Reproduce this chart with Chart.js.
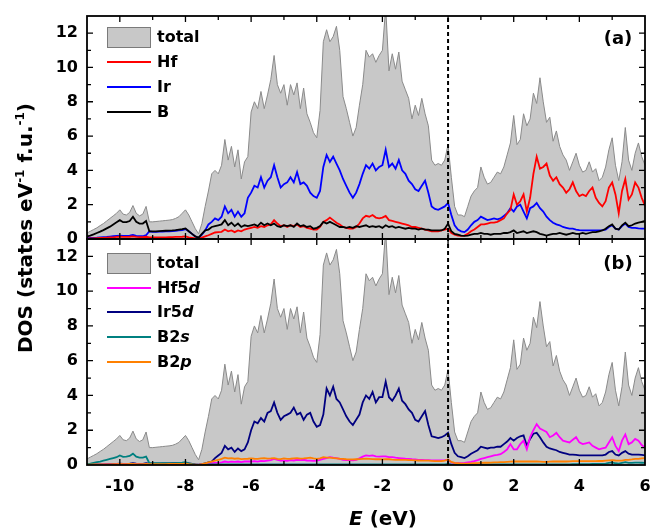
<!DOCTYPE html>
<html>
<head>
<meta charset="utf-8">
<script src="https://cdn.jsdelivr.net/npm/chart.js@4.4.1/dist/chart.umd.min.js"></script>
<style>
  body { margin: 0; background: #fff; }
  #wrap { position: relative; width: 653px; height: 529px; font-family: 'DejaVu Sans', sans-serif; font-weight: bold; color: #000; }
  .panel { position: absolute; left: 0; width: 653px; }
  #panelA { top: 0; height: 250px; }
  #panelB { top: 230px; height: 299px; }
  .txt { position: absolute; white-space: nowrap; font-size: 16px; line-height: 20px; z-index: 2; }
  .sw { position: absolute; left: 107px; width: 44px; height: 2px; z-index: 2; }
  .box { position: absolute; left: 107px; width: 44px; height: 21px; background: #c8c8c8; border: 1px solid #7a7a7a; box-sizing: border-box; z-index: 2; }
  sup { font-size: 12px; line-height: 0; vertical-align: 8px; }
</style>
</head>
<body>
<div id="wrap">
  <div class="panel" id="panelA"><canvas id="chartA"></canvas></div>
  <div class="panel" id="panelB"><canvas id="chartB"></canvas></div>

  <!-- legend (a) -->
  <div class="box" style="top:27px"></div><div class="txt" style="left:157px;top:27px">total</div>
  <div class="sw" style="top:61px;background:#ff0000"></div><div class="txt" style="left:157px;top:52px">Hf</div>
  <div class="sw" style="top:86px;background:#0000ff"></div><div class="txt" style="left:157px;top:77px">Ir</div>
  <div class="sw" style="top:111px;background:#000000"></div><div class="txt" style="left:157px;top:102px">B</div>
  <div class="txt" style="left:598px;top:27px;width:40px;text-align:center;font-size:18px;line-height:22px">(a)</div>

  <!-- legend (b) -->
  <div class="box" style="top:253px"></div><div class="txt" style="left:157px;top:253px">total</div>
  <div class="sw" style="top:287px;background:#ff00ff"></div><div class="txt" style="left:157px;top:278px">Hf5<i>d</i></div>
  <div class="sw" style="top:311px;background:#000080"></div><div class="txt" style="left:157px;top:302px">Ir5<i>d</i></div>
  <div class="sw" style="top:336px;background:#008080"></div><div class="txt" style="left:157px;top:327px">B2<i>s</i></div>
  <div class="sw" style="top:361px;background:#ff8000"></div><div class="txt" style="left:157px;top:352px">B2<i>p</i></div>
  <div class="txt" style="left:598px;top:252px;width:40px;text-align:center;font-size:18px;line-height:22px">(b)</div>

  <!-- axis titles -->
  <div class="txt" style="left:283px;top:506px;width:200px;text-align:center;font-size:20px;line-height:24px"><i>E</i> (eV)</div>
  <div class="txt" style="left:-125px;top:216px;width:300px;text-align:center;font-size:20px;line-height:24px;transform:rotate(-90deg)">DOS (states eV<sup>-1</sup> f.u.<sup>-1</sup>)</div>
</div>

<script>
// energy grid (eV)
const energy = [
  -11.0,-10.9,-10.8,-10.7,-10.6,-10.5,-10.4,-10.3,-10.2,-10.1,
  -10.0,-9.9,-9.8,-9.7,-9.6,-9.5,-9.4,-9.3,-9.2,-9.1,
  -9.0,-8.9,-8.8,-8.7,-8.6,-8.5,-8.4,-8.3,-8.2,-8.1,
  -8.0,-7.9,-7.8,-7.7,-7.6,-7.5,-7.4,-7.3,-7.2,-7.1,
  -7.0,-6.9,-6.8,-6.7,-6.6,-6.5,-6.4,-6.3,-6.2,-6.1,
  -6.0,-5.9,-5.8,-5.7,-5.6,-5.5,-5.4,-5.3,-5.2,-5.1,
  -5.0,-4.9,-4.8,-4.7,-4.6,-4.5,-4.4,-4.3,-4.2,-4.1,
  -4.0,-3.9,-3.8,-3.7,-3.6,-3.5,-3.4,-3.3,-3.2,-3.1,
  -3.0,-2.9,-2.8,-2.7,-2.6,-2.5,-2.4,-2.3,-2.2,-2.1,
  -2.0,-1.9,-1.8,-1.7,-1.6,-1.5,-1.4,-1.3,-1.2,-1.1,
  -1.0,-0.9,-0.8,-0.7,-0.6,-0.5,-0.4,-0.3,-0.2,-0.1,
  0.0,0.1,0.2,0.3,0.4,0.5,0.6,0.7,0.8,0.9,
  1.0,1.1,1.2,1.3,1.4,1.5,1.6,1.7,1.8,1.9,
  2.0,2.1,2.2,2.3,2.4,2.5,2.6,2.7,2.8,2.9,
  3.0,3.1,3.2,3.3,3.4,3.5,3.6,3.7,3.8,3.9,
  4.0,4.1,4.2,4.3,4.4,4.5,4.6,4.7,4.8,4.9,
  5.0,5.1,5.2,5.3,5.4,5.5,5.6,5.7,5.8,5.9,
  6.0
];

const totalDOS = [
  0.35,0.45,0.55,0.65,0.78,0.9,1.05,1.2,1.35,1.5,
  1.7,1.45,1.4,1.55,1.95,1.5,1.35,1.45,1.9,1.0,
  1.0,1.02,1.04,1.06,1.08,1.1,1.13,1.2,1.3,1.5,
  1.7,1.4,1.0,0.6,0.3,0.9,1.9,2.8,3.8,4.0,
  3.8,4.3,5.8,4.6,5.4,4.2,5.2,3.5,4.5,4.8,
  7.4,8.0,7.6,8.6,7.6,8.4,9.3,10.7,9.0,8.5,
  9.0,7.8,9.0,8.4,9.1,7.6,8.8,7.3,6.8,6.2,
  5.9,7.5,11.5,12.2,11.5,11.8,12.4,11.0,8.3,7.6,
  6.8,6.0,6.5,7.8,9.0,11.0,10.6,10.8,10.3,10.7,
  11.0,13.5,9.8,10.8,9.9,10.9,9.2,8.7,8.2,7.0,
  7.8,7.2,8.2,7.3,6.6,4.6,4.3,4.4,4.3,4.6,
  5.5,3.6,1.9,1.4,1.4,1.3,1.9,2.5,2.8,3.0,
  4.2,3.6,3.2,3.3,3.6,3.9,3.8,4.2,4.9,5.6,
  7.2,5.5,5.8,7.3,6.6,7.0,8.5,7.9,9.4,8.0,
  6.8,7.1,5.7,6.3,5.4,4.9,4.6,4.0,4.5,5.0,
  4.3,3.9,4.0,4.5,3.9,4.1,3.4,3.6,4.2,5.2,
  5.9,4.3,3.4,4.5,6.5,4.6,4.0,5.0,5.6,4.8,
  4.3
];

// panel (a): atom-projected
const hfDOS = [
  0.02,0.03,0.04,0.05,0.06,0.07,0.08,0.09,0.1,0.12,
  0.14,0.12,0.12,0.13,0.15,0.12,0.11,0.11,0.13,0.1,
  0.1,0.1,0.1,0.1,0.1,0.11,0.11,0.12,0.12,0.13,
  0.15,0.1,0.07,0.04,0.02,0.08,0.15,0.22,0.3,0.38,
  0.4,0.42,0.55,0.45,0.5,0.4,0.5,0.45,0.55,0.6,
  0.65,0.7,0.65,0.75,0.7,0.8,0.85,1.1,0.9,0.75,
  0.8,0.7,0.8,0.75,0.85,0.7,0.75,0.65,0.6,0.55,
  0.55,0.7,1.0,1.1,1.25,1.1,0.95,0.85,0.7,0.65,
  0.6,0.6,0.7,0.9,1.2,1.35,1.3,1.4,1.25,1.2,
  1.25,1.35,1.1,1.05,1.0,0.95,0.9,0.85,0.8,0.7,
  0.7,0.65,0.6,0.55,0.5,0.45,0.45,0.45,0.5,0.55,
  0.6,0.35,0.25,0.2,0.18,0.2,0.3,0.45,0.55,0.7,
  0.85,0.85,0.9,0.95,0.95,1.0,1.1,1.2,1.5,1.7,
  2.6,2.0,2.2,2.6,1.6,2.4,3.8,4.8,4.1,4.2,
  4.4,3.7,3.4,3.6,3.2,3.0,2.7,2.9,3.3,2.8,
  2.5,2.6,2.5,2.8,3.0,2.4,2.1,1.9,2.2,3.0,
  3.3,2.6,1.5,2.8,3.5,2.3,2.6,3.3,3.0,2.4,
  1.95
];

const irDOS = [
  0.05,0.06,0.07,0.08,0.1,0.11,0.12,0.14,0.16,0.18,
  0.2,0.18,0.18,0.2,0.24,0.18,0.16,0.16,0.22,0.45,
  0.42,0.42,0.43,0.43,0.44,0.45,0.46,0.48,0.5,0.52,
  0.58,0.45,0.3,0.15,0.05,0.25,0.5,0.85,1.0,1.2,
  1.1,1.3,1.9,1.5,1.7,1.3,1.6,1.3,1.5,2.4,
  2.7,3.1,3.0,3.6,3.0,3.4,3.6,4.3,3.6,3.0,
  3.2,3.3,3.6,3.3,3.9,3.2,3.3,3.1,2.7,2.5,
  2.4,2.8,4.2,4.9,4.5,4.8,4.4,4.0,3.5,3.1,
  2.7,2.4,2.7,3.2,3.8,4.3,4.1,4.4,4.0,4.2,
  4.3,5.2,4.2,4.4,4.1,4.6,4.0,3.8,3.4,3.2,
  2.9,2.8,3.1,3.4,2.7,1.9,1.75,1.7,1.8,1.9,
  2.1,1.4,0.8,0.55,0.45,0.4,0.55,0.8,1.0,1.1,
  1.3,1.2,1.1,1.15,1.2,1.15,1.2,1.35,1.5,1.8,
  1.6,1.9,2.0,1.6,1.2,1.8,1.9,2.1,1.8,1.6,
  1.3,1.1,0.95,0.85,0.8,0.7,0.65,0.6,0.6,0.55,
  0.52,0.5,0.5,0.5,0.5,0.5,0.5,0.52,0.55,0.7,
  0.8,0.6,0.55,0.75,0.9,0.7,0.65,0.65,0.62,0.6,
  0.6
];

const bDOS = [
  0.15,0.2,0.27,0.35,0.43,0.52,0.62,0.72,0.85,0.97,
  1.1,0.98,0.98,1.05,1.3,1.0,0.9,0.9,1.05,0.45,
  0.45,0.45,0.46,0.47,0.48,0.49,0.5,0.52,0.55,0.58,
  0.62,0.45,0.3,0.15,0.08,0.3,0.5,0.55,0.7,0.75,
  0.8,0.85,1.1,0.8,0.95,0.75,0.9,0.7,0.8,0.75,
  0.8,0.85,0.75,0.95,0.8,0.9,0.8,0.9,0.75,0.7,
  0.8,0.75,0.8,0.7,0.9,0.75,0.8,0.7,0.75,0.6,
  0.65,0.75,1.0,0.9,1.0,0.9,0.8,0.7,0.7,0.65,
  0.7,0.65,0.75,0.7,0.75,0.8,0.7,0.75,0.7,0.75,
  0.65,0.8,0.7,0.75,0.65,0.7,0.65,0.6,0.65,0.6,
  0.6,0.55,0.6,0.55,0.55,0.5,0.5,0.5,0.5,0.6,
  0.9,0.45,0.3,0.25,0.2,0.18,0.2,0.25,0.3,0.3,
  0.35,0.3,0.3,0.25,0.3,0.3,0.3,0.35,0.35,0.4,
  0.5,0.35,0.4,0.45,0.35,0.4,0.45,0.4,0.3,0.25,
  0.2,0.25,0.3,0.3,0.35,0.3,0.25,0.3,0.35,0.3,
  0.3,0.35,0.3,0.35,0.4,0.4,0.45,0.5,0.6,0.75,
  0.85,0.6,0.55,0.8,0.95,0.75,0.8,0.9,0.95,1.0,
  1.05
];

// panel (b): orbital-projected
const hf5dDOS = [
  0.01,0.01,0.02,0.02,0.02,0.03,0.03,0.04,0.04,0.05,
  0.06,0.05,0.05,0.05,0.06,0.05,0.04,0.04,0.05,0.04,
  0.04,0.04,0.04,0.04,0.04,0.05,0.05,0.05,0.05,0.06,
  0.06,0.04,0.03,0.02,0.01,0.03,0.05,0.08,0.1,0.12,
  0.12,0.15,0.2,0.17,0.19,0.18,0.2,0.17,0.2,0.2,
  0.2,0.22,0.2,0.24,0.22,0.25,0.28,0.35,0.3,0.25,
  0.25,0.24,0.28,0.26,0.3,0.28,0.3,0.26,0.25,0.24,
  0.25,0.3,0.35,0.4,0.45,0.42,0.4,0.35,0.3,0.28,
  0.28,0.27,0.3,0.38,0.48,0.55,0.52,0.55,0.5,0.48,
  0.5,0.5,0.45,0.45,0.42,0.4,0.38,0.36,0.35,0.33,
  0.32,0.3,0.3,0.28,0.28,0.27,0.26,0.26,0.27,0.28,
  0.3,0.15,0.1,0.1,0.1,0.12,0.15,0.18,0.22,0.28,
  0.35,0.4,0.45,0.5,0.55,0.58,0.62,0.75,0.9,1.2,
  0.9,0.9,1.2,1.4,0.9,1.6,2.0,2.35,2.1,2.0,
  1.9,1.6,1.7,1.85,1.6,1.4,1.35,1.3,1.45,1.6,
  1.3,1.2,1.25,1.3,1.1,1.0,0.9,0.95,1.0,1.3,
  1.6,1.1,0.8,1.4,1.75,1.2,1.3,1.5,1.4,1.15,
  1.0
];

const ir5dDOS = [
  0.02,0.02,0.03,0.03,0.04,0.04,0.05,0.05,0.06,0.07,
  0.08,0.07,0.07,0.08,0.1,0.08,0.07,0.07,0.1,0.08,
  0.08,0.08,0.08,0.09,0.09,0.09,0.1,0.1,0.1,0.11,
  0.12,0.09,0.06,0.03,0.02,0.05,0.1,0.15,0.2,0.4,
  0.55,0.7,1.1,0.9,1.0,0.75,0.95,0.8,0.9,1.3,
  2.0,2.5,2.4,2.7,2.5,3.0,3.1,3.6,3.0,2.6,
  2.8,2.9,3.0,3.3,2.9,3.0,2.6,2.9,3.0,2.5,
  2.2,2.3,2.9,4.4,4.0,4.5,3.8,3.6,3.2,2.8,
  2.5,2.3,2.6,2.9,3.6,4.0,3.8,4.2,3.6,3.9,
  3.9,4.8,3.9,3.7,4.0,4.4,3.7,3.5,3.2,3.0,
  2.6,2.5,2.8,3.1,2.3,1.65,1.6,1.55,1.6,1.7,
  1.85,1.2,0.7,0.5,0.45,0.4,0.5,0.65,0.75,0.85,
  1.05,1.0,0.95,1.0,1.0,1.05,1.05,1.2,1.35,1.55,
  1.4,1.55,1.65,1.7,1.1,1.5,1.8,1.85,1.6,1.3,
  1.05,0.95,0.9,0.85,0.75,0.7,0.65,0.6,0.6,0.58,
  0.55,0.55,0.55,0.55,0.55,0.55,0.55,0.55,0.6,0.75,
  0.8,0.6,0.55,0.7,0.8,0.65,0.6,0.6,0.6,0.58,
  0.55
];

const b2sDOS = [
  0.05,0.08,0.12,0.16,0.2,0.25,0.3,0.35,0.4,0.45,
  0.55,0.47,0.48,0.52,0.65,0.48,0.42,0.42,0.48,0.1,
  0.1,0.1,0.1,0.1,0.1,0.1,0.11,0.11,0.12,0.13,
  0.16,0.1,0.06,0.03,0.01,0.02,0.03,0.03,0.03,0.03,
  0.03,0.03,0.04,0.03,0.03,0.03,0.03,0.03,0.03,0.03,
  0.03,0.03,0.03,0.03,0.03,0.03,0.03,0.03,0.03,0.03,
  0.03,0.03,0.03,0.03,0.03,0.03,0.03,0.03,0.03,0.03,
  0.03,0.03,0.04,0.04,0.04,0.04,0.04,0.03,0.03,0.03,
  0.03,0.03,0.03,0.03,0.03,0.03,0.03,0.03,0.03,0.03,
  0.03,0.03,0.03,0.03,0.03,0.03,0.03,0.03,0.03,0.03,
  0.03,0.03,0.03,0.03,0.03,0.03,0.03,0.03,0.03,0.04,
  0.06,0.03,0.02,0.02,0.02,0.02,0.02,0.02,0.02,0.02,
  0.03,0.03,0.03,0.03,0.03,0.03,0.03,0.03,0.03,0.04,
  0.04,0.04,0.04,0.04,0.04,0.04,0.04,0.04,0.04,0.04,
  0.04,0.04,0.04,0.04,0.04,0.04,0.04,0.04,0.05,0.05,
  0.05,0.05,0.05,0.05,0.06,0.06,0.06,0.07,0.08,0.12,
  0.15,0.1,0.08,0.12,0.16,0.12,0.12,0.14,0.14,0.13,
  0.12
];

const b2pDOS = [
  0.02,0.02,0.03,0.03,0.03,0.04,0.04,0.04,0.05,0.05,
  0.06,0.05,0.05,0.06,0.07,0.05,0.05,0.05,0.06,0.05,
  0.05,0.05,0.05,0.05,0.05,0.06,0.06,0.06,0.07,0.07,
  0.08,0.05,0.03,0.02,0.01,0.05,0.1,0.15,0.2,0.25,
  0.3,0.35,0.42,0.38,0.4,0.36,0.38,0.34,0.35,0.36,
  0.38,0.36,0.35,0.38,0.4,0.37,0.38,0.4,0.35,0.34,
  0.38,0.35,0.36,0.38,0.4,0.37,0.38,0.4,0.42,0.38,
  0.35,0.38,0.45,0.42,0.42,0.4,0.38,0.36,0.35,0.33,
  0.32,0.32,0.33,0.34,0.35,0.36,0.35,0.34,0.33,0.33,
  0.32,0.34,0.33,0.31,0.3,0.3,0.3,0.29,0.28,0.28,
  0.27,0.26,0.25,0.25,0.25,0.24,0.22,0.22,0.23,0.25,
  0.32,0.18,0.12,0.1,0.08,0.08,0.08,0.09,0.1,0.11,
  0.12,0.13,0.13,0.14,0.15,0.15,0.16,0.17,0.18,0.19,
  0.2,0.2,0.2,0.21,0.2,0.2,0.21,0.2,0.19,0.18,
  0.18,0.19,0.2,0.2,0.2,0.2,0.2,0.21,0.22,0.22,
  0.22,0.22,0.22,0.22,0.22,0.22,0.23,0.23,0.25,0.27,
  0.28,0.26,0.25,0.25,0.3,0.3,0.32,0.35,0.35,0.38,
  0.4
];

// Fermi level marker
const fermiE = [0, 0];
const fermiDOS = [0, 13];

const xMin = -11, xMax = 6, yMin = 0, yMax = 13;

const tickFont = { family: 'DejaVu Sans', size: 16, weight: 'bold' };

function pts(xs, ys) {
    return ys.map((v, i) => ({ x: xs[i], y: v }));
}

function curve(label, values, color, order) {
    return {
        label: label,
        data: pts(energy, values),
        borderColor: color,
        borderWidth: 1.8,
        pointRadius: 0,
        tension: 0,
        fill: false,
        order: order
    };
}

function totalSet() {
    return {
        label: 'total',
        data: pts(energy, totalDOS),
        borderColor: '#8a8a8a',
        backgroundColor: '#c8c8c8',
        borderWidth: 1,
        pointRadius: 0,
        tension: 0,
        fill: 'origin',
        order: 10
    };
}

function fermiSet() {
    return {
        label: 'EF',
        data: pts(fermiE, fermiDOS),
        borderColor: '#000',
        borderWidth: 2,
        borderDash: [4, 3],
        pointRadius: 0,
        fill: false,
        order: 0
    };
}

// no label overhang padding: chart area is fixed by layout padding only
function noOverhang(s) {
    s.paddingLeft = 0;
    s.paddingRight = 0;
    s.paddingTop = 0;
    s.paddingBottom = 0;
}

// --- frame with inward ticks on all four sides ---
const frameTicks = {
    id: 'frameTicks',
    afterDatasetsDraw(chart) {
        const { ctx, chartArea: a, scales: { x, y } } = chart;
        ctx.save();
        ctx.strokeStyle = '#000';
        ctx.lineWidth = 1.3;
        ctx.beginPath();
        for (let v = xMin + 1; v < xMax; v++) {
            const px = x.getPixelForValue(v);
            const len = v % 2 === 0 ? 6 : 4;
            ctx.moveTo(px, a.bottom); ctx.lineTo(px, a.bottom - len);
            ctx.moveTo(px, a.top); ctx.lineTo(px, a.top + len);
        }
        for (let v = yMin + 1; v < yMax; v++) {
            const py = y.getPixelForValue(v);
            const len = v % 2 === 0 ? 6 : 4;
            ctx.moveTo(a.left, py); ctx.lineTo(a.left + len, py);
            ctx.moveTo(a.right, py); ctx.lineTo(a.right - len, py);
        }
        ctx.stroke();
        ctx.lineWidth = 1.8;
        ctx.strokeRect(a.left, a.top, a.right - a.left, a.bottom - a.top);
        ctx.restore();
    }
};

const yScale = {
    min: yMin,
    max: yMax,
    ticks: { stepSize: 2, includeBounds: false, font: tickFont, color: '#000', padding: 9 },
    grid: { display: false, drawTicks: false },
    border: { display: false },
    afterFit: s => { s.width = 87; noOverhang(s); }
};

// --- PANEL (a) ---
new Chart(document.getElementById('chartA'), {
    type: 'line',
    data: {
        datasets: [
            fermiSet(),
            curve('Hf', hfDOS, '#ff0000', 2),
            curve('Ir', irDOS, '#0000ff', 3),
            curve('B', bDOS, '#000000', 1),
            totalSet()
        ]
    },
    options: {
        responsive: true,
        maintainAspectRatio: false,
        animation: false,
        layout: { padding: { left: 0, right: 8, top: 16, bottom: 11 } },
        plugins: { legend: { display: false }, tooltip: { enabled: false } },
        scales: {
            x: { type: 'linear', min: xMin, max: xMax, display: false },
            y: yScale
        }
    },
    plugins: [frameTicks]
});

// --- PANEL (b) ---
new Chart(document.getElementById('chartB'), {
    type: 'line',
    data: {
        datasets: [
            fermiSet(),
            curve('Hf5d', hf5dDOS, '#ff00ff', 3),
            curve('Ir5d', ir5dDOS, '#000080', 4),
            curve('B2s', b2sDOS, '#008080', 2),
            curve('B2p', b2pDOS, '#ff8000', 1),
            totalSet()
        ]
    },
    options: {
        responsive: true,
        maintainAspectRatio: false,
        animation: false,
        layout: { padding: { left: 0, right: 8, top: 9, bottom: 0 } },
        plugins: { legend: { display: false }, tooltip: { enabled: false } },
        scales: {
            x: {
                type: 'linear',
                min: xMin,
                max: xMax,
                ticks: { stepSize: 2, includeBounds: false, font: tickFont, color: '#000', padding: 12, maxRotation: 0, autoSkip: false },
                grid: { display: false, drawTicks: false },
                border: { display: false },
                afterFit: s => { s.height = 64; noOverhang(s); }
            },
            y: yScale
        }
    },
    plugins: [frameTicks]
});
</script>
</body>
</html>
